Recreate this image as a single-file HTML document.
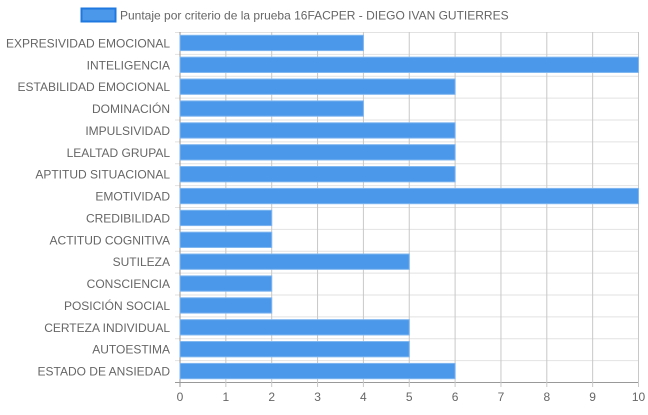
<!DOCTYPE html>
<html><head><meta charset="utf-8"><style>
html,body{margin:0;padding:0;background:#fff;}
svg text{font-family:"Liberation Sans",Arial,sans-serif;}
</style></head><body>
<svg id="chart" width="648" height="410" xmlns="http://www.w3.org/2000/svg">
<g>
<rect x="81.5" y="8.5" width="34" height="13" fill="#4b97e9" stroke="#1f78e0" stroke-width="2"/>
<text x="120" y="19.5" font-size="12" fill="#666">Puntaje por criterio de la prueba 16FACPER - DIEGO IVAN GUTIERRES</text>
</g>
<g id="grid"></g><g id="bars"></g><g id="labels"></g>
</svg>
<script>
const categories=["EXPRESIVIDAD EMOCIONAL","INTELIGENCIA","ESTABILIDAD EMOCIONAL","DOMINACIÓN","IMPULSIVIDAD","LEALTAD GRUPAL","APTITUD SITUACIONAL","EMOTIVIDAD","CREDIBILIDAD","ACTITUD COGNITIVA","SUTILEZA","CONSCIENCIA","POSICIÓN SOCIAL","CERTEZA INDIVIDUAL","AUTOESTIMA","ESTADO DE ANSIEDAD"];
const values=[4,10,6,4,6,6,6,10,2,2,5,2,2,5,5,6];
const ticks=[0,1,2,3,4,5,6,7,8,9,10];
const NS="http://www.w3.org/2000/svg";
const L=180,R=638.5,T=32,B=382,max=10;
const x=v=>L+(R-L)*v/max;
const rowH=(B-T)/categories.length;
const y=i=>T+rowH*i;
function mk(tag,attrs,parent){const e=document.createElementNS(NS,tag);for(const k in attrs)e.setAttribute(k,attrs[k]);parent.appendChild(e);return e;}
const grid=document.getElementById('grid'),bars=document.getElementById('bars'),labels=document.getElementById('labels');
for(let i=0;i<=categories.length;i++){
 const ln=mk('line',{x1:L-5,x2:R,y1:y(i)+.5,y2:y(i)+.5,stroke:i==categories.length?'#999':'#e2e2e2','stroke-width':1},grid);
 
 
}
ticks.forEach(t=>{
 const ln=mk('line',{x1:x(t),x2:x(t),y1:T,y2:B+5,stroke:t==0?'#999':'#c8c8c8','stroke-width':1},grid);
 
 
 const tx=mk('text',{x:x(t),y:401,'text-anchor':'middle','font-size':12,fill:'#666'},labels);
 tx.textContent=t;
 
 
});
categories.forEach((c,i)=>{
 const bh=rowH*0.7;
 const r=mk('rect',{x:x(0),y:y(i)+(rowH-bh)/2,width:x(values[i])-x(0),height:bh,fill:'#4b97e9',stroke:'#7fb6f0','stroke-width':1},bars);
 
 
 const tx=mk('text',{x:170,y:y(i)+rowH/2+4.5,'text-anchor':'end','font-size':12,fill:'#666'},labels);
 tx.textContent=c;
 
 
});
</script>
</body></html>
